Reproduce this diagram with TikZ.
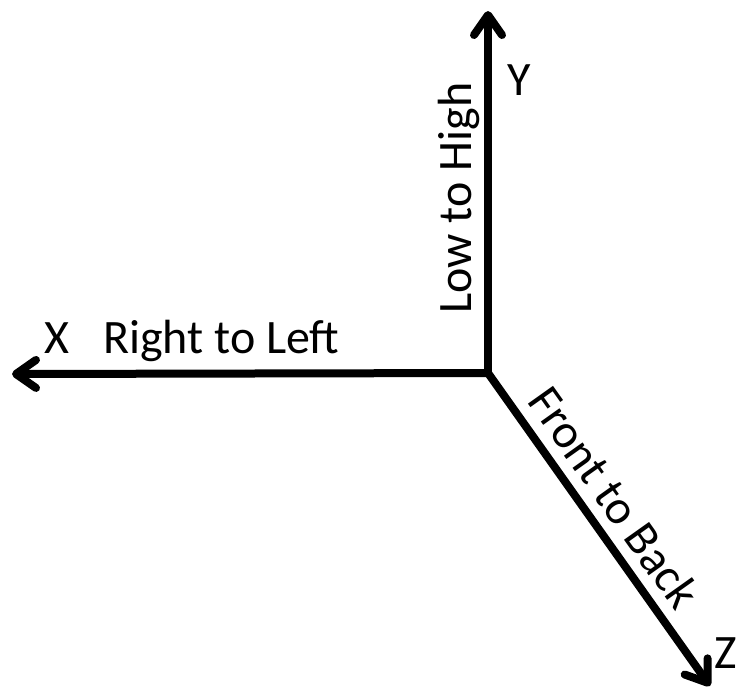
\documentclass[tikz,border=0pt]{standalone}
\usepackage{fontspec}
\setmainfont{Carlito}
\usetikzlibrary{arrows.meta}

\begin{document}
\begin{tikzpicture}[
  x=1pt, y=-1pt,
  axis/.style={line width=8pt, line cap=round, line join=round,
               -{Straight Barb[length=20pt, width=28pt, line cap=round, line join=round]}},
  albl/.style={font=\fontsize{48}{48}\selectfont, inner sep=0pt},
]
 \useasboundingbox (0,0) rectangle (738,697);

 % Axes
 \coordinate (O) at (488,373);
 \coordinate (Ytip) at (488,11);
 \coordinate (Xtip) at (12,374);
 \coordinate (Ztip) at (710,686);

 \draw[axis] (O) -- (Ytip);
 \draw[axis] (O) -- (Xtip);
 \draw[axis] (O) -- (Ztip);

 % Axis letters
 \node[albl, anchor=base west] (Ylbl) at (507,95) {Y};
 \node[albl, anchor=base west] (Xlbl) at (44,353) {X};
 \node[albl, anchor=base west] (Zlbl) at (714,668) {Z};

 % Direction labels
 \node[albl, anchor=base, rotate=90] (YDir) at (471,198) {Low to High};
 \node[albl, anchor=base west] (XDir) at (103,353) {Right to Left};
 \node[albl, anchor=base, rotate=-54.6] (ZDir) at (601,507) {Front to Back};
\end{tikzpicture}
\end{document}
